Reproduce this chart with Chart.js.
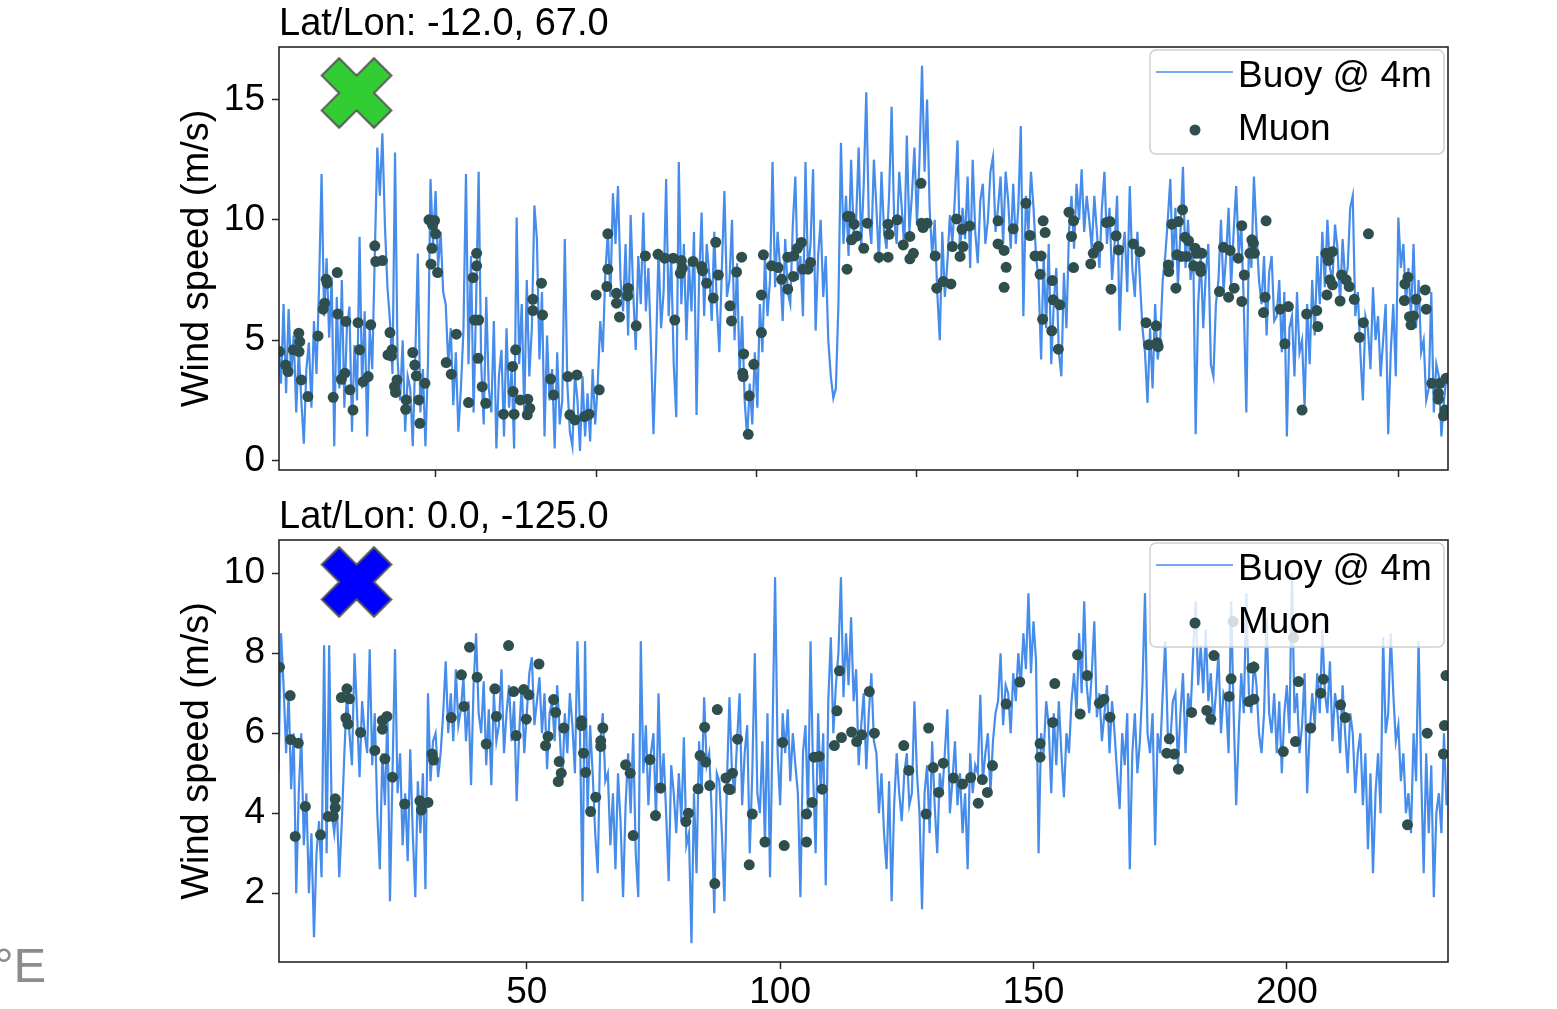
<!DOCTYPE html>
<html>
<head>
<meta charset="utf-8">
<script src="https://cdn.jsdelivr.net/npm/chart.js@4.4.1/dist/chart.umd.min.js"></script>
<style>
  body { margin: 0; background: #fff; width: 1557px; height: 1009px; overflow: hidden; position: relative; }
  canvas { position: absolute; left: 0; }
  #topCanvas { top: 0; }
  #bottomCanvas { top: 490px; }
  #deg { position: absolute; left: -6px; top: 941px; font: 49px/49px "Liberation Sans", Arial, sans-serif; color: #8c8c8c; }
</style>
</head>
<body>
<canvas id="topCanvas" width="1557" height="510"></canvas>
<canvas id="bottomCanvas" width="1557" height="519"></canvas>
<div id="deg">°E</div>
<script>
const FONT = '"Liberation Sans", Arial, sans-serif';
const BUOY_BLUE = 'rgb(70,140,235)';
const MUON_GREY = '#2f4f4f';
const AXIS = '#262626';

// buoy wind speed, sampled every half day from day 1
const buoyStart = 1.0;
const buoyStep = 0.5;

const buoyTop = [
  4.8,3.2, 6.5,2.8, 6.3,3.5, 5.2,2.0, 4.6,2.5, 0.7,3.8, 4.9,2.2, 5.8,3.6, 7.2,11.9, 6.0,8.4,
  5.1,7.6, 0.6,6.8, 3.0,7.5, 2.2,5.5, 6.4,1.2, 4.8,2.5, 9.3,3.0, 6.2,1.0, 5.5,3.8, 8.5,13.0,
  11.0,13.6, 9.8,7.2, 5.8,3.6, 12.8,4.2, 2.5,5.0, 1.2,3.5, 3.0,0.6, 4.4,8.6, 2.0,3.8, 0.6,4.0,
  11.7,9.0, 11.2,8.0, 9.5,7.0, 6.5,4.0, 5.5,2.3, 4.5,1.2, 3.0,5.4, 11.9,4.0, 8.5,2.0, 6.5,12.0,
  4.0,1.5, 6.8,3.0, 2.0,5.8, 0.5,3.5, 4.6,1.0, 5.5,2.2, 3.8,0.5, 10.1,4.0, 6.5,2.0, 7.5,3.5,
  5.5,10.6, 9.2,4.2, 7.0,1.0, 5.2,2.5, 3.8,0.5, 4.5,1.5, 2.5,9.2, 3.2,1.2, 0.6,3.6, 2.5,0.4,
  3.5,1.0, 2.8,0.8, 3.8,1.5, 3.2,5.8, 4.5,7.8, 9.5,6.8, 11.1,9.0, 11.4,7.5, 6.2,9.0, 5.2,10.2,
  7.0,4.6, 8.5,6.5, 10.3,6.2, 8.0,4.8, 1.1,4.5, 8.8,5.5, 7.0,11.7, 6.0,8.5, 4.0,1.8, 12.4,6.5,
  9.0,5.0, 8.2,6.2, 9.5,1.9, 7.5,10.3, 6.0,9.0, 7.8,5.8, 9.5,6.5, 4.5,8.0, 11.2,6.8, 7.5,10.0,
  5.0,8.2, 3.5,6.0, 2.5,0.9, 3.2,1.5, 4.5,2.2, 6.5,4.5, 8.5,6.0, 7.5,12.4, 7.2,9.5, 8.0,5.8,
  9.2,7.0, 6.5,9.8, 11.8,7.5, 8.5,6.0, 12.4,7.8, 9.0,12.1, 5.4,8.5, 10.0,6.8, 8.5,5.0, 3.5,2.6,
  3.0,6.5, 13.2,9.0, 11.0,8.5, 12.5,9.5, 10.0,13.0, 8.8,11.5, 15.3,10.0, 9.0,12.5, 10.5,8.2, 12.0,9.5,
  8.8,11.0, 14.7,10.0, 9.0,12.0, 10.5,8.8, 13.5,9.5, 11.0,13.0, 9.8,12.5, 16.4,12.0, 15.0,10.5, 8.5,10.0,
  7.0,5.0, 9.5,6.8, 8.2,10.2, 9.0,11.0, 13.3,8.5, 10.5,9.2, 11.8,8.0, 12.5,9.5, 8.2,10.8, 11.5,9.0,
  10.0,12.0, 12.6,9.5, 10.5,11.8, 9.0,12.0, 10.8,8.8, 11.5,9.0, 10.5,13.9, 6.0,11.0, 9.5,12.0, 10.5,8.5,
  7.5,4.2, 8.5,5.5, 9.0,4.0, 6.5,8.0, 4.5,3.5, 7.8,5.5, 9.5,11.0, 8.8,11.5, 10.0,12.1, 9.5,11.0,
  10.0,8.8, 11.0,9.5, 8.0,10.5, 12.0,9.0, 10.5,7.5, 9.0,11.0, 5.4,8.5, 9.5,7.0, 11.4,8.0, 6.8,9.5,
  7.5,5.5, 4.5,2.4, 5.5,3.0, 6.5,4.2, 5.0,7.5, 8.5,10.0, 11.7,8.0, 10.5,7.2, 9.5,12.2, 8.0,10.0,
  7.5,9.0, 1.1,6.5, 8.5,5.5, 7.8,9.0, 4.0,3.5, 6.5,7.5, 10.0,7.0, 8.5,10.5, 7.2,9.5, 11.4,8.5,
  9.8,6.5, 2.0,9.0, 8.0,11.8, 9.5,7.5, 6.5,8.5, 5.2,7.8, 8.5,5.8, 6.0,7.5, 4.5,7.0, 1.0,5.5,
  6.0,3.5, 7.0,4.5, 5.0,2.2, 6.5,4.0, 7.5,5.2, 8.5,6.5, 9.5,7.2, 10.0,8.0, 7.5,9.8, 8.8,6.5,
  9.2,7.5, 8.0,10.5, 11.0,6.0, 7.0,4.5, 2.5,6.0, 5.5,3.8, 7.2,5.0, 6.0,3.5, 5.0,6.5, 1.1,4.5,
  6.5,3.5, 10.1,8.0, 9.0,6.5, 8.0,6.0, 9.0,5.5, 7.5,4.5, 5.0,2.5, 3.0,7.0, 2.0,4.0, 3.5,1.0, 2.5,3.5
];

const buoyBottom = [
  5.0,8.5, 7.2,5.5, 7.0,4.6, 6.0,2.0, 4.5,6.0, 3.2,4.5, 2.0,3.5, 0.9,3.0, 3.8,2.4, 8.2,3.0,
  8.2,4.0, 3.5,4.2, 2.4,3.8, 5.5,7.0, 6.0,5.2, 8.0,6.5, 4.9,6.8, 6.0,5.5, 8.1,5.2, 6.5,4.0,
  2.6,5.5, 4.2,6.5, 1.8,5.0, 8.1,4.5, 5.5,3.2, 4.5,2.8, 5.6,3.5, 1.9,4.8, 3.5,5.0, 2.1,7.0,
  4.8,5.8, 6.0,4.9, 5.5,6.5, 7.8,6.0, 7.0,5.8, 7.6,6.2, 6.6,7.4, 5.8,6.8, 4.7,7.2, 8.5,6.5,
  6.0,7.3, 5.2,6.6, 4.7,7.0, 5.8,6.2, 7.6,5.5, 6.5,7.2, 5.8,6.8, 4.3,6.0, 7.2,5.5, 6.5,7.5,
  7.9,6.2, 6.8,7.4, 6.0,7.0, 5.1,6.5, 6.8,5.8, 7.2,6.0, 4.7,6.5, 5.5,7.0, 6.2,5.0, 8.3,6.0,
  1.8,8.3, 4.0,6.2, 5.0,3.5, 2.5,5.8, 6.5,4.8, 5.0,3.2, 4.5,2.6, 5.0,3.8, 1.9,4.2, 5.5,4.0,
  6.0,3.0, 1.9,8.3, 5.0,6.2, 4.2,5.5, 6.0,3.8, 7.0,4.5, 5.5,4.0, 2.3,5.2, 4.5,3.5, 5.0,3.8,
  5.9,3.2, 3.5,0.75, 4.5,2.5, 5.8,4.5, 6.9,5.2, 5.5,4.0, 1.5,5.0, 4.8,3.5, 1.8,4.8, 6.9,5.0,
  4.5,5.8, 7.0,4.2, 5.5,6.2, 3.0,5.0, 8.0,4.5, 4.0,5.8, 3.2,6.5, 2.4,6.0, 9.9,5.5, 4.2,6.5,
  5.5,6.6, 4.8,6.0, 5.2,4.5, 1.9,5.5, 6.2,4.0, 8.3,5.0, 3.0,6.5, 4.5,6.0, 2.2,6.8, 8.4,6.0,
  7.2,8.0, 9.9,6.9, 8.5,7.2, 8.9,6.8, 7.6,5.2, 6.2,7.0, 5.1,6.5, 7.5,5.8, 5.5,4.0, 5.0,3.5,
  2.6,4.8, 1.8,4.2, 5.5,4.5, 3.8,5.0, 5.5,4.2, 4.5,6.8, 5.0,4.0, 1.6,4.5, 5.2,3.5, 5.8,4.2,
  3.0,5.0, 4.5,5.5, 6.6,4.0, 4.8,5.8, 4.2,5.0, 3.5,4.5, 2.6,5.5, 4.5,5.2, 5.0,6.96, 4.8,5.5,
  6.0,4.5, 5.8,6.5, 6.8,8.0, 6.2,7.2, 7.0,6.0, 7.5,6.8, 8.0,7.2, 8.5,7.6, 9.5,7.5, 8.8,7.8,
  3.0,6.0, 5.5,6.8, 6.2,4.5, 6.5,5.2, 6.8,5.5, 4.4,6.0, 5.5,6.8, 7.5,6.5, 8.5,7.0, 9.3,7.2,
  6.5,7.5, 8.8,6.4, 7.0,5.8, 6.5,7.2, 5.5,6.8, 6.0,5.0, 4.1,6.0, 5.2,6.5, 2.6,5.5, 6.5,5.0,
  5.8,7.2, 9.5,6.0, 5.5,6.5, 3.2,6.0, 5.5,7.0, 8.3,6.0, 5.8,6.8, 7.0,5.2, 6.5,7.5, 5.5,7.0,
  6.5,8.0, 9.3,7.2, 8.2,7.0, 8.6,6.8, 7.5,6.2, 7.0,8.0, 6.0,7.0, 6.8,5.5, 9.3,6.5, 4.2,6.0,
  7.5,6.5, 9.5,7.0, 6.5,7.8, 7.2,6.0, 5.5,6.5, 8.9,6.5, 6.0,7.0, 5.5,6.8, 5.0,6.5, 7.2,6.0,
  10.0,6.5, 7.0,5.5, 6.2,7.5, 4.5,6.0, 7.0,6.2, 7.5,6.5, 8.6,7.0, 6.5,7.8, 5.8,7.0, 6.5,5.5,
  7.2,6.0, 5.0,6.5, 6.0,4.5, 5.5,6.0, 4.2,5.5, 3.1,5.0, 2.5,4.5, 5.5,4.0, 8.4,6.0, 6.5,8.5,
  7.0,5.8, 6.2,4.8, 5.5,4.0, 4.5,3.5, 6.0,4.8, 8.3,5.0, 2.5,5.5, 3.5,5.2, 1.9,4.0, 4.5,3.5, 6.0,4.2
];

// muon-derived wind speed estimates
const muonTopX = [
  1.2,2.4,2.9,3.9,5.0,5.2,5.05,5.5,6.8,8.8,
  9.8,10.1,10.4,10.6,12.6,11.8,12.7,13.4,14.1,14.3,
  15.1,15.7,16.7,17.0,17.7,18.7,19.2,20.0,20.2,21.5,
  23.0,22.6,23.4,23.3,23.9,24.4,24.1,26.2,26.1,27.5,
  27.9,28.2,28.7,28.9,29.9,30.7,31.8,31.4,32.0,31.3,
  31.1,32.4,34.1,35.1,36.1,38.5,39.4,40.1,40.1,39.7,
  40.5,40.4,41.2,41.9,45.4,47.2,47.8,47.3,47.5,48.7,
  50.2,50.6,50.1,51.2,51.2,52.9,53.1,54.7,55.3,58.1,
  59.9,58.5,59.5,61.4,62.3,63.7,64.3,66.0,66.0,65.8,
  67.7,67.7,68.3,70.0,69.9,71.6,73.4,75.9,77.2,
  78.9,80.5,80.7,80.3,79.2,82.8,84.5,84.7,85.5,86.8,
  87.3,87.8,90.1,90.4,91.4,92.4,92.8,92.6,92.7,93.9,
  93.7,94.8,96.3,96.3,96.7,98.3,99.6,100.3,101.5,101.5,
  102.6,102.7,103.4,104.2,104.5,105.5,106.0,113.3,113.8,114.6,
  114.1,115.1,116.5,113.2,117.2,119.5,121.3,121.3,121.5,123.1,
  124.3,125.6,125.6,126.3,127.8,127.9,128.2,129.0,130.6,130.9,
  132.2,133.7,134.0,134.8,135.9,136.1,135.5,137.4,143.0,143.0,
  144.2,144.6,144.2,146.0,148.5,149.3,150.3,151.5,151.3,151.9,
  152.3,153.7,151.8,153.6,153.9,154.9,
  155.2,157.0,157.9,157.5,157.9,161.3,161.8,162.8,164.4,165.1,
  165.3,166.3,166.8,169.7,171.0,172.2,172.7,174.2,174.4,174.6,
  176.6,176.7,178.1,177.3,178.6,179.4,178.3,179.2,179.9,180.2,
  180.6,181.9,182.2,183.2,181.6,182.9,183.0,186.7,187.5,188.5,
  188.8,189.6,190.4,191.1,191.1,191.6,193.1,193.4,192.7,193.6,
  195.9,195.7,195.4,198.7,200.3,199.6,203.0,203.9,205.9,206.1,
  207.7,208.2,209.0,208.5,209.0,207.9,210.5,210.8,211.7,212.3,
  213.3,216.1,215.1,214.3,223.3,223.9,223.2,224.2,225.0,224.5,
  225.5,227.3,227.5,228.6,230.2,229.9,229.9,231.2,230.9,231.4
];
const muonTopY = [
  4.53,3.97,3.7,4.6,5.29,4.94,4.53,3.35,2.66,5.18,
  6.29,6.54,7.53,7.37,7.81,2.63,6.09,3.38,3.63,5.78,
  2.94,2.1,5.73,4.6,3.28,3.49,5.64,8.92,8.27,8.31,
  5.32,4.39,4.6,4.35,3.07,3.35,2.83,2.52,2.13,4.49,
  3.97,3.52,2.52,1.55,3.21,10.0,9.97,9.79,9.42,8.82,
  8.16,7.81,4.07,3.59,5.25,2.41,7.6,8.61,8.09,5.84,
  5.84,4.25,3.07,2.38,1.93,3.91,4.6,2.87,1.93,2.52,
  2.55,2.17,1.9,6.7,6.23,7.37,6.05,3.39,2.73,3.49,
  3.56,1.9,1.69,1.83,1.93,6.88,2.94,9.42,7.95,7.23,
  6.95,6.54,5.96,7.16,6.84,5.6,8.5,8.57,8.41,
  8.41,8.31,7.99,7.78,5.84,8.27,8.06,7.89,7.37,6.75,
  9.07,7.71,6.43,5.8,7.83,8.45,4.43,3.63,3.49,2.69,
  1.09,4.0,5.32,6.88,8.55,8.09,8.02,7.53,7.12,8.45,
  7.65,8.5,8.82,9.06,7.95,7.95,8.23,10.14,10.14,9.82,
  9.17,9.33,8.82,7.95,9.86,8.45,8.45,9.82,9.4,10.0,
  8.96,9.31,8.38,8.61,11.52,9.86,9.68,9.86,8.5,7.16,
  7.44,7.34,8.89,10.04,9.61,8.89,8.48,9.75,9.96,9.0,
  8.73,8.03,7.2,9.63,10.69,9.35,8.5,8.5,7.74,9.96,
  9.47,7.48,5.87,5.39,6.68,4.63,
  6.47,10.32,9.96,9.31,8.02,8.17,8.61,8.89,9.89,9.93,
  7.12,9.34,8.75,9.0,8.68,5.73,4.81,5.6,4.9,4.74,
  8.13,7.85,7.16,9.82,9.93,10.42,8.55,8.48,9.28,8.48,
  9.13,8.82,8.61,8.61,8.09,8.06,7.85,7.02,8.86,6.79,
  8.73,7.16,8.41,9.76,6.61,7.71,9.17,9.03,8.61,8.61,
  9.96,6.79,6.15,6.29,6.4,4.85,2.1,6.09,6.23,5.57,
  8.61,8.31,8.68,7.51,7.3,6.88,6.63,7.71,7.51,7.23,
  6.7,9.42,5.73,5.12,7.34,7.62,6.65,5.98,6.01,5.64,
  6.7,7.09,6.29,3.21,3.21,2.8,2.55,2.1,1.86,3.42
];

const muonBottomX = [
  1.2,3.3,3.4,4.9,6.3,4.3,9.3,10.8,11.8,12.2,
  12.2,13.4,14.5,15.0,14.3,14.7,17.2,20.0,21.5,21.5,
  22.4,22.0,23.5,25.9,28.9,29.2,30.5,31.3,31.6,35.1,
  37.1,37.6,38.7,40.2,42.0,43.7,44.0,46.4,47.4,47.9,
  49.4,50.4,49.9,52.4,54.2,53.7,55.3,55.7,57.3,56.4,
  56.8,56.2,60.8,60.8,61.2,61.6,63.6,62.6,65.0,64.6,
  64.6,69.5,70.4,71.0,74.3,76.4,75.4,
  81.4,81.9,83.8,84.2,85.1,85.3,86.1,87.6,87.1,89.3,
  90.6,89.8,90.1,91.6,93.9,94.5,97.0,100.5,100.8,105.2,
  105.2,106.3,106.7,107.7,108.3,110.7,111.2,111.7,112.1,114.1,
  115.1,116.1,117.6,118.6,124.4,125.4,128.8,129.3,130.2,131.3,
  132.2,134.2,136.0,137.6,139.9,139.1,140.9,141.9,144.6,147.3,
  151.3,151.3,153.8,154.2,
  158.7,160.6,159.2,163.0,163.9,165.1,176.8,176.3,177.8,178.6,
  181.9,181.2,184.2,185.0,185.6,188.6,189.0,189.4,192.5,193.1,
  193.5,193.5,199.3,201.3,201.7,202.3,204.7,206.7,207.2,210.6,
  211.5,223.8,227.7,230.9,231.1,231.4
];
const muonBottomY = [
  7.65,6.94,5.84,5.75,4.17,3.42,3.46,3.92,3.92,4.36,
  4.14,6.89,7.11,6.86,6.38,6.23,6.02,5.57,6.32,6.1,
  6.42,5.36,4.9,4.23,4.31,4.08,4.27,5.48,5.33,6.39,
  7.46,6.67,8.15,7.4,5.73,7.11,6.42,8.19,7.04,5.94,
  7.09,6.96,6.35,7.73,5.92,5.69,6.84,6.52,6.13,5.29,
  5.0,4.79,6.31,6.19,5.5,5.02,4.4,4.04,6.13,5.81,
  5.67,5.21,5.0,3.44,5.34,4.63,3.94,
  3.79,4.0,4.61,5.44,6.15,5.28,4.69,6.59,2.24,4.88,
  5.0,4.61,4.59,5.85,2.71,3.98,3.28,5.77,3.19,3.98,
  3.28,4.27,5.4,5.42,4.6,5.69,6.56,7.56,5.89,6.03,
  5.79,5.96,7.04,6.0,5.69,5.07,3.98,6.13,5.14,4.52,
  5.25,4.88,4.73,4.89,4.84,4.25,4.52,5.19,6.73,7.28,
  5.74,5.4,6.27,7.24,
  7.96,7.44,6.48,6.75,6.85,6.4,5.86,5.5,5.48,5.1,
  8.75,6.52,6.57,6.35,7.94,6.92,7.36,8.79,6.79,7.63,
  7.65,6.85,5.54,8.39,5.79,7.29,6.13,7.0,7.35,6.71,
  6.39,3.71,6.0,5.48,6.19,7.44
];

// site markers (big X)
const siteX = [16.4];
const siteTopY = [15.27];
const siteBottomY = [9.78];

// axes
const xRange = [1.1, 231.8];
const topXTicks = [32.0, 63.7, 95.3, 127.0, 158.7, 190.4, 222.1];
const bottomXTicks = [50, 100, 150, 200];
const topYRange = [-0.39, 17.18];
const topYTicks = [0, 5, 10, 15];
const bottomYRange = [0.28, 10.83];
const bottomYTicks = [2, 4, 6, 8, 10];

const titles = ['Lat/Lon: -12.0, 67.0', 'Lat/Lon: 0.0, -125.0'];

function asSeries(vals) {
  return vals.map((v, i) => ({ x: buoyStart + i * buoyStep, y: v }));
}
function asPoints(xs, ys) {
  return xs.map((x, i) => ({ x: x, y: ys[i] }));
}

// matplotlib style filled 'X' marker
function makeCross(fill) {
  const size = 74;
  const c = document.createElement('canvas');
  c.width = size; c.height = size;
  const g = c.getContext('2d');
  const u = 17.4;
  const pts = [[-1,-2],[0,-1],[1,-2],[2,-1],[1,0],[2,1],[1,2],[0,1],[-1,2],[-2,1],[-1,0],[-2,-1]];
  g.beginPath();
  pts.forEach(([a, b], i) => {
    const px = size / 2 + a * u, py = size / 2 + b * u;
    if (i) g.lineTo(px, py); else g.moveTo(px, py);
  });
  g.closePath();
  g.fillStyle = fill;
  g.fill();
  g.strokeStyle = '#5a5a5a';
  g.lineWidth = 2;
  g.stroke();
  return c;
}

const panelDecor = {
  id: 'panelDecor',
  afterDatasetsDraw(chart, args, opts) {
    const { ctx, chartArea: a } = chart;
    const buoy = chart.data.datasets[0];
    const muon = chart.data.datasets[1];
    ctx.save();
    // frame
    ctx.strokeStyle = AXIS;
    ctx.lineWidth = 1.6;
    ctx.strokeRect(a.left, a.top, a.right - a.left, a.bottom - a.top);
    // title
    ctx.fillStyle = '#000';
    ctx.font = '38px ' + FONT;
    ctx.textAlign = 'left';
    ctx.textBaseline = 'alphabetic';
    ctx.fillText(opts.title, a.left, a.top - 12);
    // legend
    const lx = a.right - 298, ly = a.top + 3, lw = 294, lh = 104;
    ctx.beginPath();
    if (ctx.roundRect) ctx.roundRect(lx, ly, lw, lh, 6); else ctx.rect(lx, ly, lw, lh);
    ctx.fillStyle = 'rgba(255,255,255,0.8)';
    ctx.fill();
    ctx.strokeStyle = '#cfcfcf';
    ctx.lineWidth = 1.5;
    ctx.stroke();
    ctx.beginPath();
    ctx.moveTo(lx + 6, ly + 22);
    ctx.lineTo(lx + 83, ly + 22);
    ctx.strokeStyle = buoy.borderColor;
    ctx.lineWidth = 1.5;
    ctx.stroke();
    ctx.beginPath();
    ctx.arc(lx + 45, ly + 80, muon.pointRadius, 0, Math.PI * 2);
    ctx.fillStyle = muon.backgroundColor;
    ctx.fill();
    ctx.fillStyle = '#000';
    ctx.font = '37px ' + FONT;
    ctx.fillText(buoy.label, lx + 88, ly + 37);
    ctx.fillText(muon.label, lx + 88, ly + 90);
    ctx.restore();
  }
};

function buildChart(id, cfg) {
  return new Chart(document.getElementById(id), {
    type: 'scatter',
    data: {
      datasets: [
        { label: 'Buoy @ 4m', data: cfg.buoy, showLine: true, borderColor: BUOY_BLUE, borderWidth: 2.2,
          pointRadius: 0, tension: 0, order: 3 },
        { label: 'Muon', data: cfg.muon, backgroundColor: MUON_GREY, borderWidth: 0, pointRadius: 5.5, order: 2 },
        { label: 'site', data: cfg.site, pointStyle: cfg.cross, pointRadius: 35, order: 1 }
      ]
    },
    options: {
      responsive: false,
      animation: false,
      events: [],
      layout: { padding: { left: 170, right: 109, top: cfg.padTop, bottom: 0 } },
      plugins: {
        legend: { display: false },
        tooltip: { enabled: false },
        panelDecor: { title: cfg.title }
      },
      scales: {
        x: {
          type: 'linear', min: xRange[0], max: xRange[1],
          afterBuildTicks: s => { s.ticks = cfg.xTicks.map(v => ({ value: v })); },
          afterFit: s => { s.height = cfg.xAxisHeight; },
          ticks: {
            font: { size: 37, family: FONT }, color: '#000', padding: 2, maxRotation: 0,
            callback: cfg.xLabels ? (v => String(v)) : (() => '')
          },
          grid: { drawOnChartArea: false, tickLength: 7, tickWidth: 1.5, tickColor: AXIS },
          border: { display: false }
        },
        y: {
          min: cfg.yRange[0], max: cfg.yRange[1],
          afterBuildTicks: s => { s.ticks = cfg.yTicks.map(v => ({ value: v })); },
          afterFit: s => { s.width = 109; },
          ticks: { font: { size: 37, family: FONT }, color: '#000', padding: 7, callback: v => String(v) },
          grid: { drawOnChartArea: false, tickLength: 7, tickWidth: 1.5, tickColor: AXIS },
          border: { display: false },
          title: { display: true, text: 'Wind speed (m/s)', color: '#000',
                   font: { size: 38, family: FONT }, padding: { top: 5, bottom: 0 } }
        }
      }
    },
    plugins: [panelDecor]
  });
}

buildChart('topCanvas', {
  title: titles[0],
  buoy: asSeries(buoyTop),
  muon: asPoints(muonTopX, muonTopY),
  site: asPoints(siteX, siteTopY),
  cross: makeCross('#32cd32'),
  padTop: 47,
  xAxisHeight: 40,
  xTicks: topXTicks,
  xLabels: false,
  yRange: topYRange,
  yTicks: topYTicks
});

buildChart('bottomCanvas', {
  title: titles[1],
  buoy: asSeries(buoyBottom),
  muon: asPoints(muonBottomX, muonBottomY),
  site: asPoints(siteX, siteBottomY),
  cross: makeCross('#0000ff'),
  padTop: 50,
  xAxisHeight: 47,
  xTicks: bottomXTicks,
  xLabels: true,
  yRange: bottomYRange,
  yTicks: bottomYTicks
});
</script>
</body>
</html>
